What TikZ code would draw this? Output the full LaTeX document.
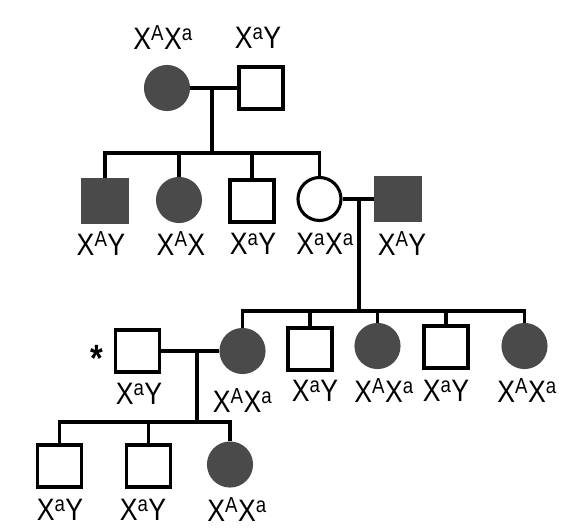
\documentclass[tikz,border=0pt]{standalone}
\usepackage{fontspec}
\setmainfont[FakeStretch=0.86]{Liberation Sans}
\definecolor{affc}{HTML}{4A4A4A}
\tikzset{
  lw/.style={line width=3.1pt},
  male/.style={draw, line width=3.1pt, rectangle, minimum width=44pt, minimum height=42pt, inner sep=0pt},
  female/.style={draw, line width=3.1pt, circle, minimum size=43pt, inner sep=0pt},
  aff/.style={fill=affc, draw=affc},
  gt/.style={font=\fontsize{31}{34}\selectfont, inner sep=0pt}
}
\newcommand{\gAa}{X\textsuperscript{A}X\textsuperscript{a}}
\newcommand{\gaa}{X\textsuperscript{a}X\textsuperscript{a}}
\newcommand{\gAY}{X\textsuperscript{A}Y}
\newcommand{\gaY}{X\textsuperscript{a}Y}
\newcommand{\gAX}{X\textsuperscript{A}X}
\begin{document}
\begin{tikzpicture}[x=1pt,y=-1pt]
\path[fill=white,use as bounding box] (0,0) rectangle (572,530);
% Generation I
\node[female,aff] (I1) at (167,88) {};
\node[male] (I2) at (261,88) {};
\node[gt] (tI1) at (163,38) {\gAa};
\node[gt] (tI2) at (258,38) {\gaY};
\coordinate (m1) at (212,88);
\coordinate (s1) at (212,153);
\draw[lw] (I1) -- (I2);
\draw[lw] (m1) -- (s1);
% Generation II
\node[male,aff] (II1) at (105,201) {};
\node[female,aff] (II2) at (179,200) {};
\node[male] (II3) at (252,201) {};
\node[female] (II4) at (319.5,199) {};
\node[male,aff] (II5) at (398,199) {};
\node[gt] (tII1) at (101,244) {\gAY};
\node[gt] (tII2) at (181,244) {\gAX};
\node[gt] (tII3) at (253,244) {\gaY};
\node[gt] (tII4) at (325,244) {\gaa};
\node[gt] (tII5) at (402,244) {\gAY};
\draw[lw] (II1.north) |- (s1) -| (II4.north);
\draw[lw] (II2.north) -- (II2.north |- s1);
\draw[lw] (II3.north) -- (II3.north |- s1);
\draw[lw] (II4) -- (II5);
\coordinate (m2) at (359,199);
\coordinate (s2) at (359,311);
\draw[lw] (m2) -- (s2);
% Generation III
\node[male] (III0) at (137.5,351) {};
\node[female,aff] (III1) at (242.5,351) {};
\node[male] (III2) at (310,349) {};
\node[female,aff] (III3) at (377.5,346) {};
\node[male] (III4) at (446,347) {};
\node[female,aff] (III5) at (524.5,346) {};
\node[font=\fontsize{38}{38}\selectfont\bfseries, inner sep=0pt] (star) at (97,358) {*};
\node[gt] (tIII0) at (139,394) {\gaY};
\node[gt] (tIII1) at (242.5,401) {\gAa};
\node[gt] (tIII2) at (315,391) {\gaY};
\node[gt] (tIII3) at (384,391) {\gAa};
\node[gt] (tIII4) at (446,391) {\gaY};
\node[gt] (tIII5) at (527,391) {\gAa};
\draw[lw] (III1.north) |- (s2) -| (III5.north);
\draw[lw] (III2.north) -- (III2.north |- s2);
\draw[lw] (III3.north) -- (III3.north |- s2);
\draw[lw] (III4.north) -- (III4.north |- s2);
\draw[lw] (III0) -- (III1);
\coordinate (m3) at (197,351);
\coordinate (s3) at (197,422);
\draw[lw] (m3) -- (s3);
% Generation IV
\node[male] (IV1) at (59.5,466) {};
\node[male] (IV2) at (148.5,466) {};
\node[female,aff] (IV3) at (230,464.5) {};
\node[gt] (tIV1) at (60,510) {\gaY};
\node[gt] (tIV2) at (143,510) {\gaY};
\node[gt] (tIV3) at (237,510) {\gAa};
\draw[lw] (IV1.north) |- (s3) -| (IV3.north);
\draw[lw] (IV2.north) -- (IV2.north |- s3);
\end{tikzpicture}
\end{document}
